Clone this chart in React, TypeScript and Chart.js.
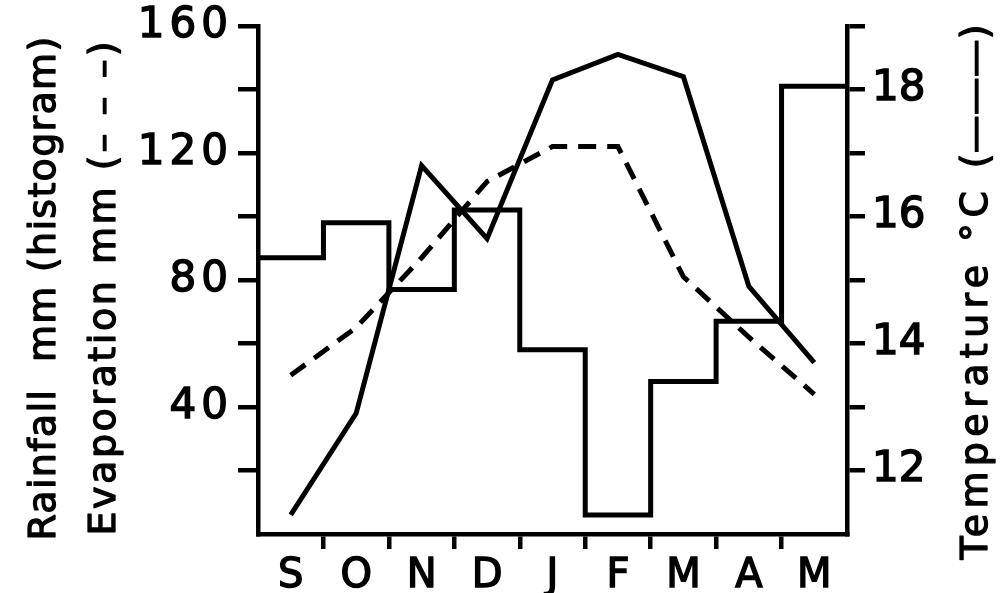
import React, { useEffect, useRef } from 'react';
import { Chart, registerables } from 'chart.js';

Chart.register(...registerables);

// ---- data ----
const months = ['S', 'O', 'N', 'D', 'J', 'F', 'M', 'A', 'M'];
const rainfall = [87, 98, 77, 102, 58, 6, 48, 67, 141]; // mm, histogram
const evaporation = [50, 65, 87, 111, 122, 122, 81, 62, 44]; // mm, dashed
const temperature = [11.3, 12.9, 16.8, 15.65, 18.15, 18.55, 18.2, 14.9, 13.7]; // °C, solid
const leftLabelled = [40, 80, 120, 160];
const rightLabelled = [12, 14, 16, 18];

const FONT = '"DejaVu Sans", "Liberation Sans", sans-serif';
const BLACK = '#000';
const NONE = 'rgba(0,0,0,0)';

const spacedColor = (px: number) => (c: any) => {
  (c.chart.ctx as any).letterSpacing = px + 'px';
  return BLACK;
};

const titlePlugin = {
  id: 'rotatedTitles',
  afterDraw(chart: any) {
    const ctx = chart.ctx;
    // parts: text pieces; free pieces get letter spacing so the whole title spans `len` px
    const drawRotated = (parts: { t: string; fixed?: number }[], cx: number, cy: number, len: number) => {
      ctx.save();
      ctx.font = `38px ${FONT}`;
      ctx.fillStyle = BLACK;
      ctx.strokeStyle = BLACK;
      ctx.lineWidth = 1.3;
      ctx.lineJoin = 'round';
      ctx.textBaseline = 'middle';
      ctx.textAlign = 'left';
      ctx.letterSpacing = '0px';
      const raw = parts.map((p) => ctx.measureText(p.t).width);
      const fixedExtra = parts.reduce((a, p) => a + (p.fixed !== undefined ? p.fixed * p.t.length : 0), 0);
      const freeChars = parts.reduce((a, p) => a + (p.fixed === undefined ? p.t.length : 0), 0);
      const rawTotal = raw.reduce((a, b) => a + b, 0);
      const ls = Math.max(0, (len - rawTotal - fixedExtra) / Math.max(1, freeChars));
      const spacing = parts.map((p) => (p.fixed !== undefined ? p.fixed : ls));
      const widths = parts.map((p, i) => raw[i] + spacing[i] * p.t.length);
      const total = widths.reduce((a, b) => a + b, 0);
      ctx.translate(cx, cy);
      ctx.rotate(-Math.PI / 2);
      let x = -total / 2;
      parts.forEach((p, i) => {
        ctx.letterSpacing = spacing[i] + 'px';
        ctx.fillText(p.t, x, 0);
        ctx.strokeText(p.t, x, 0);
        x += widths[i];
      });
      ctx.restore();
    };
    drawRotated([{ t: 'Rainfall  mm (histogram)' }], 45, 288, 505);
    drawRotated([{ t: 'Evaporation mm ' }, { t: '(– – –)', fixed: 3 }], 105, 287, 497);
    drawRotated([{ t: 'Temperature °C ' }, { t: '(———)', fixed: 0 }], 977, 292, 535);
  },
};

export default function App() {
  const ref = useRef<HTMLCanvasElement>(null);

  useEffect(() => {
    const canvas = ref.current;
    if (!canvas) return;
    const histogram = rainfall.map((v, i) => ({ x: i, y: v }));
    histogram.push({ x: rainfall.length, y: rainfall[rainfall.length - 1] });

    const chart = new Chart(canvas, {
      type: 'line',
      data: {
        labels: months,
        datasets: [
          {
            label: 'Rainfall mm (histogram)',
            data: histogram as any,
            xAxisID: 'xh',
            yAxisID: 'y',
            stepped: true,
            borderColor: BLACK,
            borderWidth: 5,
            pointRadius: 0,
            fill: false,
            borderJoinStyle: 'miter',
          },
          {
            label: 'Evaporation mm',
            data: evaporation,
            xAxisID: 'x',
            yAxisID: 'y',
            borderColor: BLACK,
            borderWidth: 5,
            borderDash: [18, 11],
            pointRadius: 0,
            fill: false,
            tension: 0,
          },
          {
            label: 'Temperature °C',
            data: temperature,
            xAxisID: 'x',
            yAxisID: 'y2',
            borderColor: BLACK,
            borderWidth: 5,
            pointRadius: 0,
            fill: false,
            tension: 0,
            borderJoinStyle: 'miter',
          },
        ],
      },
      options: {
        animation: false,
        responsive: true,
        maintainAspectRatio: false,
        layout: { padding: { top: 20, left: 0, right: 0, bottom: 0 } },
        plugins: { legend: { display: false }, tooltip: { enabled: false } },
        scales: {
          x: {
            type: 'category',
            position: 'bottom',
            offset: true,
            grid: {
              offset: true,
              drawOnChartArea: false,
              drawTicks: true,
              tickLength: 15,
              lineWidth: 4.5,
              color: (c: any) => (c.index === undefined || c.index === 0 ? NONE : BLACK),
            },
            border: { display: true, width: 4.5, color: BLACK },
            ticks: {
              font: { family: FONT, size: 40 },
              color: spacedColor(0),
              textStrokeColor: BLACK,
              textStrokeWidth: 1.5,
              padding: 4,
              autoSkip: false,
              maxRotation: 0,
            },
            afterFit: (s: any) => {
              s.height = 59;
            },
          },
          xh: {
            type: 'linear',
            display: false,
            min: 0,
            max: months.length,
          },
          y: {
            type: 'linear',
            position: 'left',
            min: 0,
            max: 160,
            grid: {
              drawOnChartArea: false,
              drawTicks: true,
              tickLength: 20,
              lineWidth: 4.5,
              color: (c: any) => (c.tick && c.tick.value === 0 ? NONE : BLACK),
            },
            border: { display: true, width: 4.5, color: BLACK },
            ticks: {
              stepSize: 20,
              autoSkip: false,
              font: { family: FONT, size: 42, lineHeight: 0.9 },
              color: spacedColor(5),
              textStrokeColor: BLACK,
              textStrokeWidth: 1.5,
              padding: 5,
              callback: (v: any) => (leftLabelled.includes(Number(v)) ? String(v) : ''),
            },
            afterFit: (s: any) => {
              s.width = 258;
            },
          },
          y2: {
            type: 'linear',
            position: 'right',
            min: 11,
            max: 19,
            grid: {
              drawOnChartArea: false,
              drawTicks: true,
              tickLength: 18,
              lineWidth: 4.5,
              color: (c: any) => (c.tick && c.tick.value === 11 ? NONE : BLACK),
            },
            border: { display: true, width: 4.5, color: BLACK },
            ticks: {
              stepSize: 1,
              autoSkip: false,
              font: { family: FONT, size: 42, lineHeight: 0.9 },
              color: spacedColor(0),
              textStrokeColor: BLACK,
              textStrokeWidth: 1.5,
              padding: 7,
              callback: (v: any) => (rightLabelled.includes(Number(v)) ? String(v) : ''),
            },
            afterFit: (s: any) => {
              s.width = 154;
            },
          },
        },
      },
      plugins: [titlePlugin],
    });
    return () => chart.destroy();
  }, []);

  return (
    <div style={{ position: 'fixed', left: 0, top: 0, width: 1001, height: 593, background: '#fff' }}>
      <canvas ref={ref} />
    </div>
  );
}
